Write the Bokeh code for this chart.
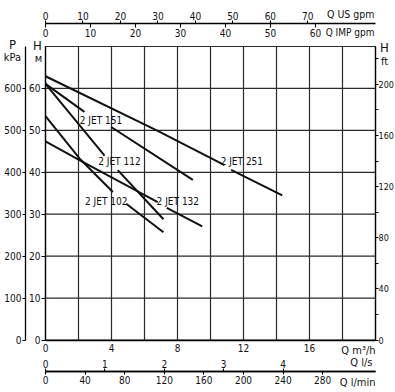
from bokeh.plotting import figure
from bokeh.models import Range1d, LinearAxis, FixedTicker, Label, ColumnDataSource
from bokeh.embed import file_html
from bokeh.resources import INLINE
from bokeh.core.properties import value
import math

FONT = "'DejaVu Sans Condensed', 'Liberation Sans', sans-serif"

# ---------------- data ----------------
q_max = 20.0            # m3/h
h_max = 70.0            # m

curve_names = ["2 JET 251", "2 JET 151", "2 JET 112", "2 JET 102", "2 JET 132"]
q_251 = [0, 6.8, 10.85, 11.25, 14.35]
h_251 = [62.9, 49.9, 41.7, 40.6, 34.5]
q_151 = [0, 2.36, 3.98, 8.93]
h_151 = [61.1, 54.4, 50.8, 38.2]
q_112 = [0, 3.58, 4.38, 7.15]
h_112 = [61.1, 44.0, 40.5, 28.8]
q_102 = [0, 2.06, 4.08, 4.89, 7.15]
h_102 = [53.4, 43.3, 35.3, 32.5, 25.7]
q_132 = [0, 2.06, 6.8, 7.35, 9.5]
h_132 = [47.4, 42.9, 32.9, 31.5, 27.1]
gap_after = [2, 1, 1, 2, 2]   # label gap between these points

label_q = [11.9, 3.36, 4.48, 3.68, 8.02]
label_h = [42.5, 52.4, 42.5, 33.1, 33.1]

q_ticks = [0, 4, 8, 12, 16]
q_grid = [0, 2, 4, 6, 8, 10, 12, 14, 16, 18, 20]
h_ticks = [0, 10, 20, 30, 40, 50, 60]
h_grid = [0, 10, 20, 30, 40, 50, 60, 70]
kpa_ticks = [0, 100, 200, 300, 400, 500, 600]
ft_ticks = [0, 40, 80, 120, 160, 200]
ft_minor = [20, 60, 100, 140, 180, 220]
usg_ticks = [0, 10, 20, 30, 40, 50, 60, 70]
impg_ticks = [0, 10, 20, 30, 40, 50, 60]
lps_ticks = [0, 1, 2, 3, 4]
lpm_ticks = [0, 40, 80, 120, 160, 200, 240, 280]

# unit conversions from m3/h (and m)
USG = 1000.0 / 60.0 / 3.785411784
IMPG = 1000.0 / 60.0 / 4.54609
LPM = 1000.0 / 60.0
LPS = 1000.0 / 3600.0
FT = 1.0 / 0.3048
KPA = 10.0

# ---------------- geometry (page pixels) ----------------
W, HGT = 395, 392
PX0, PY0 = 0, 0                 # canvas origin on page
FX0, FX1 = 45.0, 375.0          # plot area left/right on page
FY0, FY1 = 339.5, 46.0          # plot area bottom/top on page
sx = (FX1 - FX0) / q_max
sy = (FY0 - FY1) / h_max

def qx(px):
    return (px - FX0) / sx

def hy(py):
    return (FY0 - py) / sy

x_lo, x_hi = qx(PX0), qx(PX0 + W)
y_lo, y_hi = hy(PY0 + HGT), hy(PY0)

p = figure(width=W, height=HGT, x_range=Range1d(x_lo, x_hi), y_range=Range1d(y_lo, y_hi),
           output_backend="svg", toolbar_location=None, title=None,
           x_axis_location=None, y_axis_location=None,
           min_border=0, min_border_left=0, min_border_right=0,
           min_border_top=0, min_border_bottom=0)
p.background_fill_color = "white"
p.border_fill_color = "white"
p.outline_line_color = None
p.xgrid.visible = False
p.ygrid.visible = False

p.extra_x_ranges = {
    "usg": Range1d(x_lo * USG, x_hi * USG),
    "impg": Range1d(x_lo * IMPG, x_hi * IMPG),
    "lps": Range1d(x_lo * LPS, x_hi * LPS),
    "lpm": Range1d(x_lo * LPM, x_hi * LPM),
}
p.extra_y_ranges = {"kpa": Range1d(y_lo * KPA, y_hi * KPA), "ft": Range1d(y_lo * FT, y_hi * FT)}

# grid lines (bounded to the plot area)
GRID = "#2a2a2a"
p.segment(x0=q_grid, y0=[0] * len(q_grid), x1=q_grid, y1=[h_max] * len(q_grid),
          line_color=GRID, line_width=1.2)
p.segment(x0=[0] * len(h_grid), y0=h_grid, x1=[q_max] * len(h_grid), y1=h_grid,
          line_color=GRID, line_width=1.2)

def style(ax, size="10px"):
    ax.major_label_text_font = FONT
    ax.major_label_text_font_size = size
    ax.major_label_text_color = "#111111"
    ax.axis_line_color = "black"
    ax.major_tick_line_color = "black"
    ax.minor_tick_line_color = "black"
    ax.axis_line_width = 1.3
    ax.major_tick_line_width = 1.1
    ax.minor_tick_line_width = 1.1
    ax.minor_tick_out = 0
    ax.minor_tick_in = 0
    ax.major_tick_in = 0

# H (m) axis on left edge of plot area
ya = LinearAxis(fixed_location=0, bounds=(0, h_max))
style(ya)
ya.ticker = FixedTicker(ticks=h_ticks)
ya.major_tick_out = 4
ya.major_label_standoff = 1
p.add_layout(ya, "left")

# kPa axis further left
ka = LinearAxis(y_range_name="kpa", fixed_location=qx(25), bounds=(0, h_max * KPA))
style(ka)
ka.ticker = FixedTicker(ticks=kpa_ticks)
ka.major_tick_out = 3
ka.major_label_standoff = 1
p.add_layout(ka, "left")

# ft axis on right edge
fa = LinearAxis(y_range_name="ft", fixed_location=q_max, bounds=(0, h_max * FT))
style(fa, "9px")
fa.ticker = FixedTicker(ticks=ft_ticks, minor_ticks=ft_minor)
fa.major_tick_out = 3
fa.minor_tick_out = 3
fa.major_label_standoff = 0
p.add_layout(fa, "right")

# m3/h axis on bottom edge
xa = LinearAxis(fixed_location=0, bounds=(0, q_max))
style(xa)
xa.ticker = FixedTicker(ticks=q_ticks)
xa.major_tick_out = 0
xa.major_label_standoff = 4
p.add_layout(xa, "below")

# top double scale: US gpm above line, IMP gpm below line
y_top = hy(23)
ua = LinearAxis(x_range_name="usg", fixed_location=y_top, bounds=(0, q_max * USG))
style(ua)
ua.ticker = FixedTicker(ticks=usg_ticks)
ua.major_tick_out = 3
ua.major_label_standoff = 1
p.add_layout(ua, "above")

ia = LinearAxis(x_range_name="impg", fixed_location=y_top, bounds=(0, q_max * IMPG))
style(ia)
ia.ticker = FixedTicker(ticks=impg_ticks)
ia.axis_line_color = None
ia.major_tick_out = 4
ia.major_label_standoff = 1
p.add_layout(ia, "below")

# bottom double scale: l/s above line, l/min below line
y_bot = hy(371)
sa = LinearAxis(x_range_name="lps", fixed_location=y_bot, bounds=(0, q_max * LPS))
style(sa)
sa.ticker = FixedTicker(ticks=lps_ticks)
sa.major_tick_out = 3
sa.major_label_standoff = 1
p.add_layout(sa, "above")

la = LinearAxis(x_range_name="lpm", fixed_location=y_bot, bounds=(0, q_max * LPM))
style(la)
la.ticker = FixedTicker(ticks=lpm_ticks)
la.major_tick_out = 3
la.major_label_standoff = 1
p.add_layout(la, "below")

# curves
curves = [(q_251, h_251), (q_151, h_151), (q_112, h_112), (q_102, h_102), (q_132, h_132)]
for (qs, hs), g in zip(curves, gap_after):
    xs = list(qs[:g + 1]) + [math.nan] + list(qs[g + 1:])
    ys = list(hs[:g + 1]) + [math.nan] + list(hs[g + 1:])
    p.line(xs, ys, line_color="#111111", line_width=2.0)

src = ColumnDataSource(dict(x=label_q, y=label_h, t=curve_names))
p.text(x="x", y="y", text="t", source=src, text_font=value(FONT), text_font_size="10px",
       text_align="center", text_baseline="middle", text_color="#111111")

# unit titles, placed by page pixel position
def lab(px, py, t, align="right", size="11px"):
    p.add_layout(Label(x=qx(px), y=hy(py), text=t, text_font=FONT, text_font_size=size,
                       text_align=align, text_baseline="middle", text_color="#111111"))

lab(374, 13, "Q US gpm", size="10.5px")
lab(374, 32, "Q IMP gpm", size="10px")
lab(375, 350, "Q m\u00b3/h")
lab(372, 362, "Q l/s")
lab(375, 382, "Q l/min")
lab(12, 44, "P", "center", "13px")
lab(12, 57, "kPa", "center", "11px")
lab(37, 45, "H", "center", "13px")
lab(38, 58, "\u043c", "center", "11px")
lab(384, 47, "H", "center", "13px")
lab(384, 61, "ft", "center", "11px")

open("out.html", "w").write(file_html(p, INLINE))
